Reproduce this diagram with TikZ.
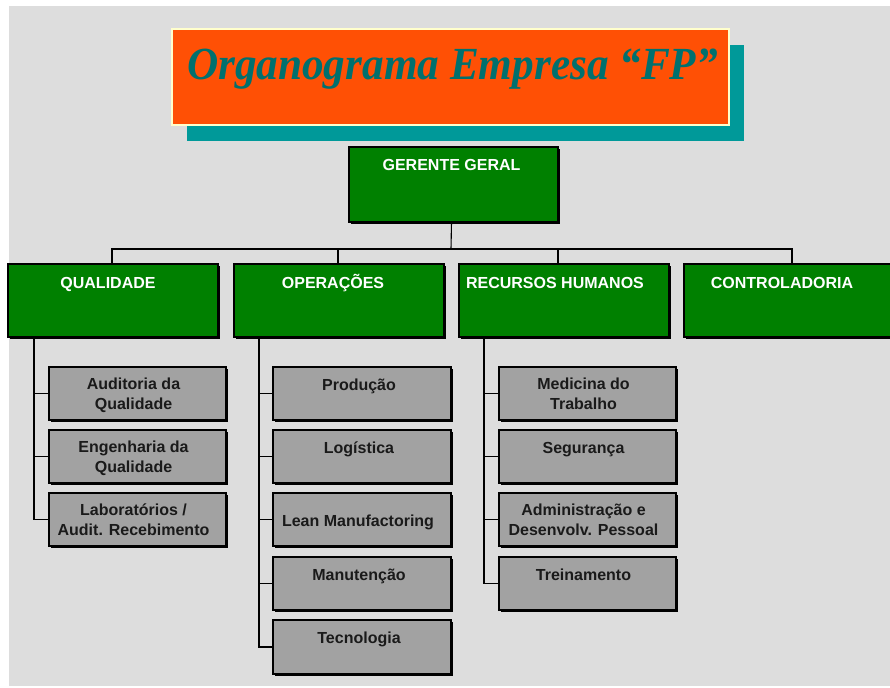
\documentclass[tikz,border=0pt]{standalone}
\usepackage{fontspec}
\usepackage{graphicx}
\setmainfont{Liberation Serif}
\setsansfont{Liberation Sans}
\usetikzlibrary{shadows}
\definecolor{bgc}{HTML}{DDDDDD}
\definecolor{boxgreen}{HTML}{008000}
\definecolor{boxgray}{HTML}{A2A2A2}
\definecolor{titleorange}{HTML}{FF5005}
\definecolor{titleshadow}{HTML}{009999}
\definecolor{titletxt}{HTML}{00706E}
\definecolor{titleborder}{HTML}{FFFFCC}
\definecolor{darktxt}{HTML}{1A1A1A}
\newcommand{\twol}[2]{\begin{tabular}[t]{@{}c@{}}#1\\#2\end{tabular}}
\tikzset{
  lvlbox/.style={draw=black, line width=1.3pt, fill=boxgreen, anchor=north west,
    inner sep=0pt, outer sep=0pt, minimum width=210pt, minimum height=73pt,
    general shadow={fill=black, shadow xshift=2pt, shadow yshift=-2pt}},
  topbox/.style={lvlbox, minimum width=209pt, minimum height=75pt},
  subbox/.style={draw=black, line width=1.3pt, fill=boxgray, anchor=north west,
    inner sep=0pt, outer sep=0pt, minimum width=177pt, minimum height=53pt,
    general shadow={fill=black, shadow xshift=2pt, shadow yshift=-2pt}},
  titlebox/.style={draw=titleborder, line width=2pt, fill=titleorange, anchor=north west,
    inner sep=0pt, outer sep=0pt, minimum width=557pt, minimum height=96pt,
    general shadow={fill=titleshadow, shadow xshift=15pt, shadow yshift=-16pt}},
  titletext/.style={text=titletxt, inner sep=0pt, anchor=base,
    font=\fontsize{46}{50}\selectfont\bfseries\itshape},
  wtext/.style={text=white, inner sep=0pt, anchor=base,
    font=\sffamily\bfseries\fontsize{16}{20}\selectfont},
  dtext/.style={text=darktxt, inner sep=0pt, anchor=base,
    font=\sffamily\bfseries\fontsize{16}{20}\selectfont},
  conn/.style={draw=black, line width=1.1pt},
}
\begin{document}
\begin{tikzpicture}[x=1pt,y=-1pt]
\useasboundingbox (0,0) rectangle (890,687);
\fill[bgc] (9,6) rectangle (890,686);

% title
\node[titlebox] (title) at (172,29) {};
\node[titletext] (titlet) at ([xshift=2pt,yshift=-51pt]title.north) {\scalebox{0.94}[1]{Organograma Empresa “FP”}};

% top
\node[topbox] (g) at (349,147) {};
\node[wtext] (gt) at ([xshift=-2pt,yshift=-23pt]g.north) {GERENTE GERAL};

% level 2
\node[lvlbox] (q) at (8,264) {};
\node[lvlbox] (o) at (234,264) {};
\node[lvlbox] (rh) at (459,264) {};
\node[lvlbox] (c) at (684,264) {};
\node[wtext] (qt) at ([xshift=-5pt,yshift=-24pt]q.north) {QUALIDADE};
\node[wtext] (ot) at ([xshift=-6pt,yshift=-24pt]o.north) {OPERAÇÕES};
\node[wtext] (rht) at ([xshift=-9pt,yshift=-24pt]rh.north) {RECURSOS HUMANOS};
\node[wtext] (ct) at ([xshift=-7pt,yshift=-24pt]c.north) {CONTROLADORIA};

% bus connectors
\coordinate (bus) at (451,249);
\draw[conn] ([xshift=-2pt]g.south) -- (bus);
\draw[conn] ([xshift=-1pt]q.north) |- (bus) -| ([xshift=3pt]c.north);
\draw[conn] ([xshift=-1pt]o.north) -- ([xshift=-1pt]o.north |- bus);
\draw[conn] ([xshift=-6pt]rh.north) -- ([xshift=-6pt]rh.north |- bus);

% qualidade children
\node[subbox] (q1) at (49,367) {};
\node[subbox] (q2) at (49,430) {};
\node[subbox] (q3) at (49,493) {};
\node[dtext] at ([xshift=-4pt,yshift=-22pt]q1.north) {\twol{Auditoria da}{Qualidade}};
\node[dtext] at ([xshift=-4pt,yshift=-22pt]q2.north) {\twol{Engenharia da}{Qualidade}};
\node[dtext] at ([xshift=-4pt,yshift=-22pt]q3.north) {\twol{Laboratórios /}{Audit. Recebimento}};
\foreach \n in {q1,q2,q3} \draw[conn] ([xshift=26pt]q.south west) |- (\n.west);

% operacoes children
\node[subbox, minimum width=178pt] (o1) at (273,367) {};
\node[subbox, minimum width=178pt] (o2) at (273,430) {};
\node[subbox, minimum width=178pt] (o3) at (273,493) {};
\node[subbox, minimum width=178pt] (o4) at (273,557) {};
\node[subbox, minimum width=178pt, minimum height=54pt] (o5) at (273,620) {};
\node[dtext] at ([xshift=-3pt,yshift=-23pt]o1.north) {Produção};
\node[dtext] at ([xshift=-3pt,yshift=-23pt]o2.north) {Logística};
\node[dtext] at ([xshift=-4pt,yshift=-33pt]o3.north) {Lean Manufactoring};
\node[dtext] at ([xshift=-3pt,yshift=-23pt]o4.north) {Manutenção};
\node[dtext] at ([xshift=-3pt,yshift=-23pt]o5.north) {Tecnologia};
\foreach \n in {o1,o2,o3,o4,o5} \draw[conn] ([xshift=25pt]o.south west) |- (\n.west);

% RH children
\node[subbox] (r1) at (499,367) {};
\node[subbox] (r2) at (499,430) {};
\node[subbox] (r3) at (499,493) {};
\node[subbox] (r4) at (499,557) {};
\node[dtext] at ([xshift=-4pt,yshift=-22pt]r1.north) {\twol{Medicina do}{Trabalho}};
\node[dtext] at ([xshift=-4pt,yshift=-23pt]r2.north) {Segurança};
\node[dtext] at ([xshift=-4pt,yshift=-22pt]r3.north) {\twol{Administração e}{Desenvolv. Pessoal}};
\node[dtext] at ([xshift=-4pt,yshift=-23pt]r4.north) {Treinamento};
\foreach \n in {r1,r2,r3,r4} \draw[conn] ([xshift=25pt]rh.south west) |- (\n.west);
\end{tikzpicture}
\end{document}
